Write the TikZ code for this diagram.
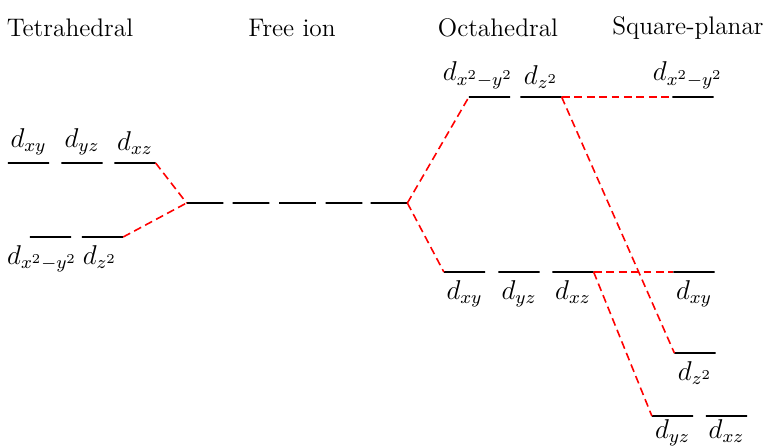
\documentclass[tikz,border=0pt]{standalone}
\usetikzlibrary{positioning}

\begin{document}
\begin{tikzpicture}[x=0.0155cm, y=-0.0155cm,
            level/.style={draw, line width=0.9pt, minimum width=0.64cm, minimum height=0pt, inner sep=0pt, outer sep=0pt},
            freelevel/.style={level, minimum width=0.57cm},
            orb/.style={font=\large, inner sep=0.5pt},
            head/.style={font=\fontsize{11.2}{13}\selectfont},
            split/.style={red, line width=0.7pt, dash pattern=on 3.5pt off 2pt}
        ]
            \useasboundingbox (0,0) rectangle (767,446);

            % headings
            \node (hT) [head] at (70,28) {Tetrahedral};
            \node (hF) [head] at (292,28) {Free ion};
            \node (hO) [head] at (498,28) {Octahedral};
            \node (hS) [head] at (688,28) {Square-planar};

            % tetrahedral
            \node (t1) [level] at (28.5,163) {};
            \node (t2) [level] at (82,163) {};
            \node (t3) [level] at (135,163) {};
            \node (t4) [level] at (50.5,237) {};
            \node (t5) [level] at (102.5,237) {};
            \node (lt1) [orb, above=3pt of t1] {$d_{xy}$};
            \node (lt2) [orb, above=3pt of t2] {$d_{yz}$};
            \node (lt3) [orb, above=3pt of t3] {$d_{xz}$};
            \node (lt4) [orb, below=3pt of t4, xshift=-0.13cm] {$d_{x^2-y^2}$};
            \node (lt5) [orb, below=3pt of t5, xshift=-0.04cm] {$d_{z^2}$};

            % free ion
            \node (f1) [freelevel] at (205,203) {};
            \node (f2) [freelevel] at (251,203) {};
            \node (f3) [freelevel] at (297.5,203) {};
            \node (f4) [freelevel] at (344,203) {};
            \node (f5) [freelevel] at (389,203) {};

            % octahedral
            \node (o1) [level] at (464.5,272) {};
            \node (o2) [level] at (519,272) {};
            \node (o3) [level] at (573,272) {};
            \node (o4) [level] at (489.5,97) {};
            \node (o5) [level] at (541,97) {};
            \node (lo1) [orb, below=3pt of o1] {$d_{xy}$};
            \node (lo2) [orb, below=3pt of o2] {$d_{yz}$};
            \node (lo3) [orb, below=3pt of o3] {$d_{xz}$};
            \node (lo4) [orb, above=3pt of o4, xshift=-0.18cm] {$d_{x^2-y^2}$};
            \node (lo5) [orb, above=3pt of o5] {$d_{z^2}$};

            % square-planar
            \node (s1) [level] at (693,97) {};
            \node (s2) [level] at (694,272) {};
            \node (s3) [level] at (695,353) {};
            \node (s4) [level] at (672.5,416) {};
            \node (s5) [level] at (726.5,416) {};
            \node (ls1) [orb, above=3pt of s1, xshift=-0.08cm] {$d_{x^2-y^2}$};
            \node (ls2) [orb, below=3pt of s2] {$d_{xy}$};
            \node (ls3) [orb, below=3pt of s3] {$d_{z^2}$};
            \node (ls4) [orb, below=1pt of s4] {$d_{yz}$};
            \node (ls5) [orb, below=1pt of s5] {$d_{xz}$};

            \draw [split] (t3.east) -- (f1.west);
            \draw [split] (t5.east) -- (f1.west);
            \draw [split] (f5.east) -- (o4.west);
            \draw [split] (f5.east) -- (o1.west);
            \draw [split] (o5.east) -- (s1.west);
            \draw [split] (o5.east) -- (s3.west);
            \draw [split] (o3.east) -- (s2.west);
            \draw [split] (o3.east) -- (s4.west);
        \end{tikzpicture}
\end{document}
